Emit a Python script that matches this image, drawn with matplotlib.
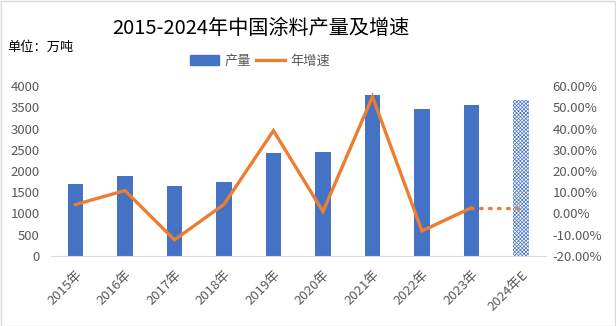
import matplotlib
matplotlib.use("Agg")
import matplotlib.pyplot as plt
from matplotlib.patches import Rectangle
from matplotlib.ticker import FuncFormatter
import numpy as np

plt.rcParams['font.family'] = ['Noto Sans CJK SC', 'DejaVu Sans']
plt.rcParams['hatch.linewidth'] = 0.5

# 数据
years = ["2015年", "2016年", "2017年", "2018年", "2019年",
         "2020年", "2021年", "2022年", "2023年", "2024年E"]
output = [1690, 1880, 1645, 1735, 2425, 2440, 3780, 3455, 3550, 3665]
growth = [4.2, 10.8, -12.4, 4.3, 39.0, 0.9, 55.0, -8.2, 2.7]
growth_est = [2.7, 2.7]  # 2023 -> 2024E 预测段

blue = "#4472C4"
orange = "#ED7D31"
gray = "#595959"

fig = plt.figure(figsize=(6.16, 3.26), dpi=100)
W, H = 616, 326
ax = fig.add_axes([50.75 / W, 1 - 256 / H, (545.7 - 50.75) / W, 170 / H])
ax2 = ax.twinx()

x = np.arange(len(years))
ax.bar(x[:-1], output[:-1], width=0.31, color=blue, zorder=2)
ax.bar(x[-1], output[-1], width=0.31, facecolor="white", edgecolor=blue,
       hatch="xxxxxxxxx", linewidth=0, zorder=2)

ax2.plot(x[:-1], np.array(growth) / 100, color=orange, lw=2.4,
         solid_joinstyle="miter", zorder=3)
ax2.plot(x[-2:], np.array(growth_est) / 100, color=orange, lw=2.4,
         linestyle=(0, (0.5, 2.2)), dash_capstyle="round", zorder=3)

ax.set_xlim(-0.5, len(years) - 0.5)
ax.set_ylim(0, 4000)
ax.set_yticks(range(0, 4001, 500))
ax2.set_ylim(-0.2, 0.6)
ax2.set_yticks(np.arange(-0.2, 0.61, 0.1))
ax2.yaxis.set_major_formatter(FuncFormatter(lambda v, p: f"{v * 100:.2f}%"))

ax.set_xticks(x)
ax.set_xticklabels(years, rotation=45, ha="right", rotation_mode="anchor")

for a in (ax, ax2):
    for s in a.spines.values():
        s.set_visible(False)
    a.tick_params(length=0, labelsize=9.5, colors=gray)
ax.spines["bottom"].set_visible(True)
ax.spines["bottom"].set_color("#D9D9D9")
ax.tick_params(axis="y", pad=8)
ax.tick_params(axis="x", pad=9)
ax2.tick_params(axis="y", pad=5)

fig.text(261 / W, 1 - 29 / H, "2015-2024年中国涂料产量及增速", ha="center",
         va="center", fontsize=14.5, fontweight="medium", color="#000000")
fig.text(7 / W, 1 - 47 / H, "单位：万吨", ha="left", va="center",
         fontsize=9.5, color="#000000")

# 图例
leg_handles = [Rectangle((0, 0), 1, 1, color=blue),
               plt.Line2D([], [], color=orange, lw=2.4)]
fig.legend(leg_handles, ["产量", "年增速"], loc="center",
           bbox_to_anchor=(260 / W, 1 - 61 / H), ncol=2, frameon=False,
           fontsize=9.5, handlelength=2.2, handletextpad=0.4,
           columnspacing=0.4, labelcolor=gray)

# 外框
fig.patches.append(Rectangle((0.5 / W, 0.5 / H), 1 - 1.5 / W, 1 - 1.5 / H,
                             transform=fig.transFigure, fill=False,
                             edgecolor="#D9D9D9", lw=1))

fig.savefig("out.png", dpi=100)
